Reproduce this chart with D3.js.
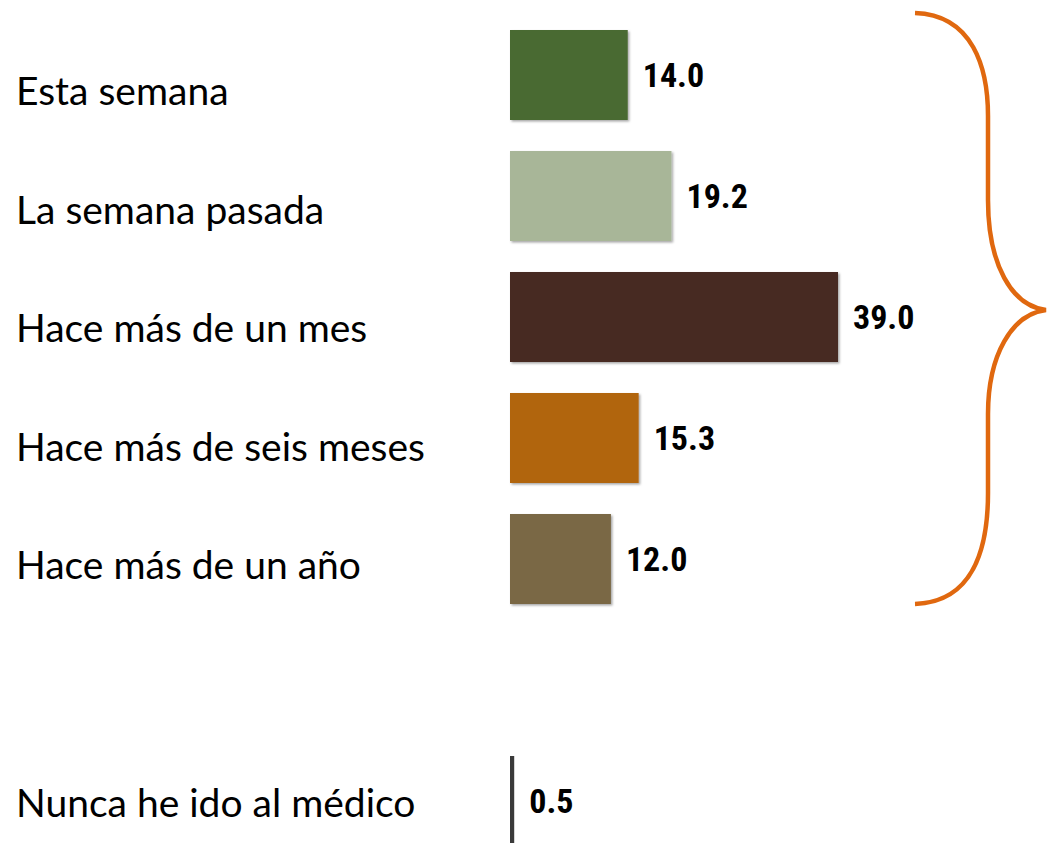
<!DOCTYPE html>
<html><head><meta charset="utf-8">
<script src="https://cdn.jsdelivr.net/npm/d3@7"></script>
<style>html,body{margin:0;padding:0;background:#fff;overflow:hidden}</style>
</head><body>
<svg id="c" width="1048" height="843"></svg>
<script>
const categories = ["Esta semana","La semana pasada","Hace más de un mes","Hace más de seis meses","Hace más de un año","","Nunca he ido al médico"];
const values = [14.0, 19.2, 39.0, 15.3, 12.0, null, 0.5];
const colors = ["#4a6b31","#a8b698","#462b21","#b1650f","#7a6845",null,"#3a3a3a"];
const valueLabels = ["14.0","19.2","39.0","15.3","12.0","","0.5"];

const svg = d3.select("#c");
const x = d3.scaleLinear().domain([0, 39]).range([510, 838]);
const y = d3.scaleBand().domain(d3.range(categories.length)).range([14.5, 14.5 + 7*121]).paddingInner(0.256).paddingOuter(0.128);
const yl = d3.scaleBand().domain(d3.range(categories.length)).range([32.7, 32.7 + 7*118.6]);

const defs = svg.append("defs");
const f = defs.append("filter").attr("id","sh").attr("x","-5%").attr("y","-5%").attr("width","115%").attr("height","115%");
f.append("feDropShadow").attr("dx",1.5).attr("dy",1.5).attr("stdDeviation",1).attr("flood-color","#000").attr("flood-opacity",0.35);

const data = categories.map((c,i)=>({c, v:values[i], col:colors[i], lab:valueLabels[i], i})).filter(d=>d.v!==null);

const isThin = d => d.v < 1;
svg.selectAll("rect.bar").data(data).enter().append("rect")
  .attr("class","bar")
  .attr("x", x(0))
  .attr("y", d => y(d.i) + y.bandwidth()/2 - 45)
  .attr("width", d => Math.max(4, x(d.v)-x(0)))
  .attr("height", 90)
  .attr("fill", d => d.col)
  .attr("filter", d => isThin(d) ? null : "url(#sh)");

svg.selectAll("text.val").data(data).enter().append("text")
  .attr("class","val")
  .attr("x", d => x(d.v) + (isThin(d) ? 15 : 15))
  .attr("y", d => y(d.i) + y.bandwidth()/2 + 12)
  .attr("font-family","'Liberation Sans Narrow','Arial Narrow','Roboto Condensed',sans-serif")
  .attr("font-weight","bold")
  .attr("font-size",34)
  .attr("fill","#000")
  .text(d => d.lab);

svg.selectAll("text.cat").data(data).enter().append("text")
  .attr("class","cat")
  .attr("x", 16)
  .attr("y", d => yl(d.i) + yl.bandwidth()/2 + 13)
  .attr("font-family","Lato,'Open Sans',sans-serif")
  .attr("font-size",39)
  .attr("fill","#000")
  .text(d => d.c);

const bx0 = 915, bx1 = 988, bt = 13, bm = 310, bb = 604, tip = 1046;
const p = d3.path();
p.moveTo(bx0, bt);
p.bezierCurveTo(bx1-15, bt+2, bx1, bt+55, bx1, bt+103);
p.lineTo(bx1, 200);
p.bezierCurveTo(bx1, 265, 1012, bm-4, tip, bm);
p.bezierCurveTo(1012, bm+4, bx1, 355, bx1, 414);
p.lineTo(bx1, 493);
p.bezierCurveTo(bx1, bb-55, bx1-15, bb-2, bx0, bb);
svg.append("path").attr("d", p.toString()).attr("fill","none").attr("stroke","#e0680f").attr("stroke-width",4.5);
</script>
</body></html>
